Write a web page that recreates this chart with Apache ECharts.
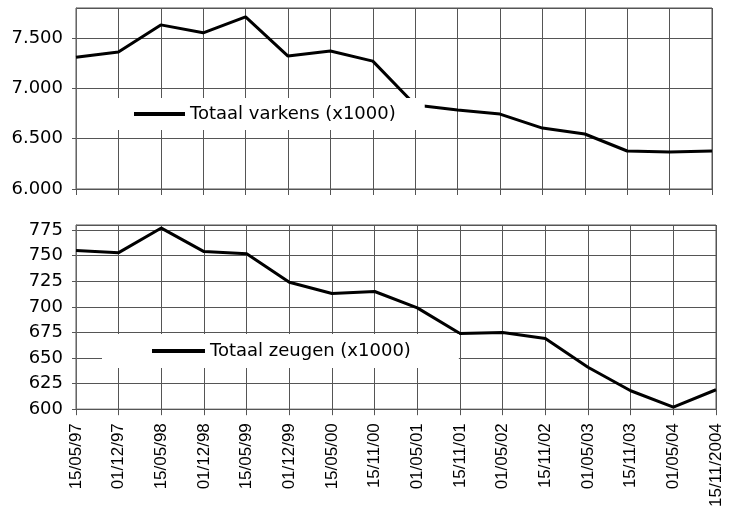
<!DOCTYPE html>
<html>
<head>
<meta charset="utf-8">
<script src="https://cdn.jsdelivr.net/npm/echarts@6/dist/echarts.min.js"></script>
<style>html,body{margin:0;padding:0;background:#fff}#c{width:736px;height:510px}</style>
</head>
<body>
<div id="c"></div>
<script>
var categories = ['15/05/97','01/12/97','15/05/98','01/12/98','15/05/99','01/12/99','15/05/00','15/11/00','01/05/01','15/11/01','01/05/02','15/11/02','01/05/03','15/11/03','01/05/04','15/11/2004'];
var varkens = [7310, 7362, 7632, 7553, 7712, 7322, 7372, 7272, 6835, 6785, 6745, 6606, 6547, 6378, 6368, 6378];
var zeugen = [755, 753, 777, 754, 752, 724, 713, 715, 699, 674, 675, 669, 641, 618, 602, 619];
var varkensName = 'Totaal varkens (x1000)';
var zeugenName = 'Totaal zeugen (x1000)';

var gridLineX = {show: true, interval: 0, lineStyle: {color: '#555', width: 1}};
var gridLineY = {show: true, lineStyle: {color: '#555', width: 1}};
var chart = echarts.init(document.getElementById('c'));
chart.setOption({
  animation: false,
  backgroundColor: '#fff',
  grid: [
    {left: 76, right: 24, top: 8, height: 181, show: true, borderColor: '#555', borderWidth: 1},
    {left: 76, right: 20, top: 225, height: 186, show: true, borderColor: '#555', borderWidth: 1}
  ],
  legend: [
    {data: [varkensName], left: 77, top: 98, orient: 'horizontal',
     backgroundColor: '#fff', padding: [6, 29, 6, 57], itemWidth: 51, itemHeight: 4, icon: 'rect',
     textStyle: {fontFamily: 'DejaVu Sans', fontSize: 18, color: '#000', lineHeight: 20}},
    {data: [zeugenName], left: 102, top: 334, orient: 'horizontal',
     backgroundColor: '#fff', padding: [7, 48, 7, 50], itemWidth: 53, itemHeight: 4, icon: 'rect',
     textStyle: {fontFamily: 'DejaVu Sans', fontSize: 18, color: '#000', lineHeight: 20}}
  ],
  xAxis: [
    {type: 'category', gridIndex: 0, data: categories, boundaryGap: false,
     axisLine: {lineStyle: {color: '#555', width: 1}},
     axisTick: {show: true, interval: 0, length: 6, lineStyle: {color: '#555'}},
     axisLabel: {show: false, interval: 0},
     splitLine: gridLineX},
    {type: 'category', gridIndex: 1, data: categories, boundaryGap: false,
     axisLine: {lineStyle: {color: '#555', width: 1}},
     axisTick: {show: true, interval: 0, length: 6, lineStyle: {color: '#555'}},
     axisLabel: {rotate: 90, margin: 14, fontFamily: 'Liberation Sans', fontSize: 17, color: '#000', interval: 0},
     splitLine: gridLineX}
  ],
  yAxis: [
    {type: 'value', gridIndex: 0, min: 6000, max: 7800, interval: 500,
     axisLine: {show: true, lineStyle: {color: '#666'}},
     axisTick: {show: true, length: 4, lineStyle: {color: '#555'}},
     axisLabel: {margin: 13, showMaxLabel: false, fontFamily: 'DejaVu Sans', fontSize: 18, color: '#000',
       formatter: function (v) { return (v / 1000).toFixed(3); }},
     splitLine: gridLineY},
    {type: 'value', gridIndex: 1, min: 600, max: 780, interval: 25,
     axisLine: {show: true, lineStyle: {color: '#666'}},
     axisTick: {show: true, length: 4, lineStyle: {color: '#555'}},
     axisLabel: {margin: 13, showMaxLabel: false, fontFamily: 'DejaVu Sans', fontSize: 18, color: '#000'},
     splitLine: gridLineY}
  ],
  series: [
    {name: varkensName, type: 'line', xAxisIndex: 0, yAxisIndex: 0, data: varkens,
     symbol: 'none', color: '#000', lineStyle: {color: '#000', width: 3}},
    {name: zeugenName, type: 'line', xAxisIndex: 1, yAxisIndex: 1, data: zeugen,
     symbol: 'none', color: '#000', lineStyle: {color: '#000', width: 3}}
  ]
});
</script>
</body>
</html>
